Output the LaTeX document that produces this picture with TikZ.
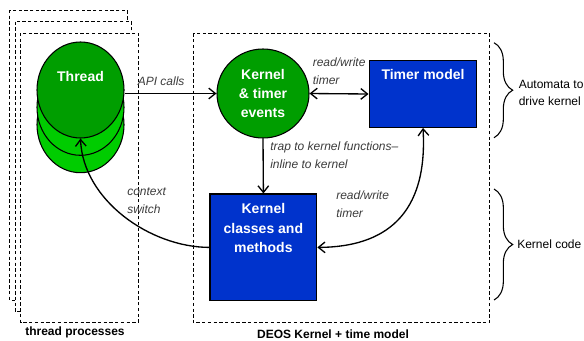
\documentclass[tikz,border=0pt]{standalone}
\usepackage{fontspec}
\setmainfont{Liberation Sans}
\usetikzlibrary{arrows.meta,shapes.geometric,decorations.pathreplacing}
\definecolor{darkgreen}{RGB}{0,158,0}
\definecolor{lightgreen}{RGB}{0,204,0}
\definecolor{boxblue}{RGB}{0,51,204}
\definecolor{labelgray}{RGB}{60,60,60}

\begin{document}
\begin{tikzpicture}[x=0.75pt,y=-0.75pt,
    frame/.style={draw,fill=white,dashed,dash pattern=on 2.5pt off 1.8pt,line width=0.6pt},
    threadball/.style={ellipse,draw,line width=0.8pt,inner sep=0pt,minimum width=65.25pt,minimum height=72pt},
    bluebox/.style={rectangle,draw,line width=0.9pt,fill=boxblue,inner sep=0pt},
    boxtext/.style={text=white,align=center,inner sep=0pt,font=\fontsize{10.5}{14.5}\selectfont\bfseries},
    edgetext/.style={text=labelgray,align=left,anchor=west,inner sep=0pt,font=\fontsize{9}{13.5}\selectfont\itshape},
    sidetext/.style={align=left,anchor=west,inner sep=0pt,font=\fontsize{9}{12.8}\selectfont},
    grouptext/.style={inner sep=0pt,font=\fontsize{9}{11}\selectfont\bfseries},
    link/.style={line width=1pt},
    >={Straight Barb[length=5pt,width=8pt]}]
    \useasboundingbox (0,0) rectangle (584,340);
    \draw[frame] (9.5,10) rectangle (127,300);
    \draw[frame] (15,21.7) rectangle (131.7,311.7);
    \draw[frame] (20.7,33) rectangle (138,322.7);
    \draw[frame] (193.3,33.3) rectangle (489.3,322.7);
    \node[grouptext] (threadcap) at (75,332) {thread processes};
    \node[grouptext] (deoscap) at (333,334.5) {DEOS Kernel + time model};

    \node[threadball,fill=lightgreen] (thread3) at (80.5,124.7) {};
    \node[threadball,fill=lightgreen] (thread2) at (80.5,107.3) {};
    \node[threadball,fill=darkgreen] (thread) at (80.5,90) {};
    \node[boxtext] (threadlbl) at (80.5,76) {Thread};

    \node[ellipse,draw,line width=0.8pt,fill=darkgreen,minimum width=69pt,minimum height=66.75pt,
          boxtext] (kernel) at (263,93.5) {Kernel\\\& timer\\events};
    \node[bluebox,minimum width=80.8pt,minimum height=50pt] (timer) at (423,94) {};
    \node[boxtext] (timerlbl) at (423,74) {Timer model};
    \node[bluebox,minimum width=80pt,minimum height=80pt] (classes) at (263.4,247.4) {};
    \node[boxtext] (classeslbl) at (263.4,228) {Kernel\\classes and\\methods};

    \draw[link,->] (kernel.west -| thread.east) -- (kernel.west);
    \node[edgetext] (apilbl) at (137.5,81) {API calls};
    \draw[link,<->] (kernel.east) -- (timer.west);
    \node[edgetext] (rw1) at (312.5,71) {read/write\\timer};
    \draw[link,->] (kernel.south) -- (classes.north);
    \node[edgetext] (traplbl) at (270,155.3) {trap to kernel functions–\\inline to kernel};
    \draw[link,<->] (timer.south) .. controls (428,215) and (385,247) .. (classes.east);
    \node[edgetext] (rw2) at (336,204) {read/write\\timer};
    \draw[link,->] (classes.west) .. controls (150,247.3) and (83,200) .. (thread.south);
    \node[edgetext] (ctxlbl) at (127,201) {context\\switch};

    \coordinate (auttop) at (494,42.7);
    \coordinate (autbot) at (494,137.7);
    \coordinate (codetop) at (494,189);
    \coordinate (codebot) at (494,300);
    \draw[line width=0.8pt,decorate,decoration={brace,amplitude=14pt}] (auttop) -- (autbot);
    \draw[line width=0.8pt,decorate,decoration={brace,amplitude=14pt}] (codetop) -- (codebot);
    \node[sidetext] (autlbl) at (518.5,92.5) {Automata to\\drive kernel};
    \node[sidetext] (codelbl) at (517,244.5) {Kernel code};
  \end{tikzpicture}
\end{document}
